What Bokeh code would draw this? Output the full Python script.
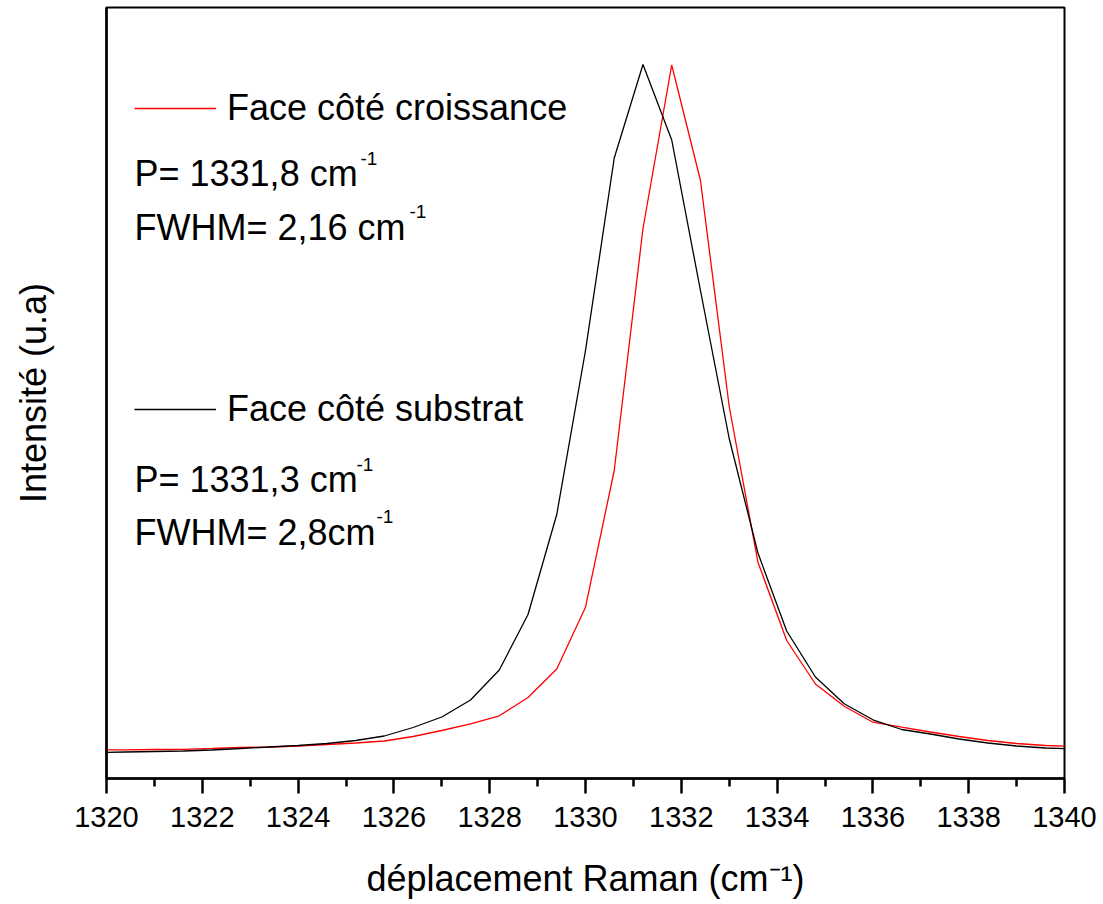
from bokeh.plotting import figure
from bokeh.models import Range1d, FixedTicker, Legend, LegendItem, Label
from bokeh.embed import file_html
from bokeh.resources import INLINE

# ---------------- data ----------------
raman_shift = [1319.8, 1320.4, 1321.0, 1321.6, 1322.2, 1322.8, 1323.4, 1324.0,
               1324.6, 1325.2, 1325.8, 1326.4, 1327.0, 1327.6, 1328.2, 1328.8,
               1329.4, 1330.0, 1330.6, 1331.2, 1331.8, 1332.4, 1333.0, 1333.6,
               1334.2, 1334.8, 1335.4, 1336.0, 1336.6, 1337.2, 1337.8, 1338.4,
               1339.0, 1339.6, 1340.2]

# Face côté croissance (red)
croissance = [28.5, 28.7, 29.0, 29.2, 30.0, 31.0, 31.5, 32.5,
              34.0, 35.5, 37.5, 42.0, 48.0, 54.7, 62.7, 81.0,
              109.5, 171.3, 308.0, 550.0, 713.5, 598.0, 372.0, 216.3,
              138.0, 94.5, 72.3, 56.3, 51.3, 46.5, 42.0, 38.0,
              35.0, 33.0, 32.0]

# Face côté substrat (black)
substrat = [26.0, 26.5, 27.0, 27.5, 28.5, 30.0, 31.5, 33.0,
            35.0, 38.0, 42.5, 51.0, 61.5, 78.5, 108.5, 164.0,
            264.0, 428.0, 620.5, 714.0, 638.5, 488.0, 340.0, 225.5,
            147.5, 101.5, 74.7, 58.7, 49.0, 44.5, 39.5, 35.5,
            32.5, 30.5, 29.5]

x_major_ticks = [1320, 1322, 1324, 1326, 1328, 1330, 1332, 1334, 1336, 1338, 1340]
x_minor_ticks = [1321, 1323, 1325, 1327, 1329, 1331, 1333, 1335, 1337, 1339]

label_red = "Face côté croissance"
label_black = "Face côté substrat"
x_axis_title = "déplacement Raman (cm⁻¹)"
y_axis_title = "Intensité (u.a)"

FONT = "Liberation Sans"
W, H = 1103, 904

p = figure(width=W, height=H, output_backend="svg", toolbar_location=None,
           x_range=Range1d(1320, 1340), y_range=Range1d(0, 771),
           min_border_left=106, min_border_right=39, min_border_top=7,
           min_border_bottom=126)

p.grid.visible = False
p.outline_line_color = "black"
p.outline_line_width = 2
p.background_fill_color = "white"
p.border_fill_color = "white"

r_red = p.line(raman_shift, croissance, line_color="#ff0000", line_width=1.3)
r_black = p.line(raman_shift, substrat, line_color="black", line_width=1.3)

# x axis
xa = p.xaxis[0]
xa.ticker = FixedTicker(ticks=x_major_ticks, minor_ticks=x_minor_ticks)
xa.axis_line_width = 2.5
xa.axis_line_color = "black"
xa.major_tick_line_width = 2.5
xa.minor_tick_line_width = 2.5
xa.major_tick_line_color = "black"
xa.minor_tick_line_color = "black"
xa.major_tick_out = 15
xa.major_tick_in = 0
xa.minor_tick_out = 8
xa.minor_tick_in = 0
xa.major_label_text_font = FONT
xa.major_label_text_font_size = "29px"
xa.major_label_text_color = "black"
xa.major_label_standoff = 13
xa.axis_label = x_axis_title
xa.axis_label_text_font = FONT
xa.axis_label_text_font_size = "36px"
xa.axis_label_text_font_style = "normal"
xa.axis_label_text_color = "black"
xa.axis_label_standoff = 28

# y axis (no ticks)
ya = p.yaxis[0]
ya.ticker = FixedTicker(ticks=[])
ya.axis_line_width = 2.5
ya.axis_line_color = "black"
ya.major_tick_out = 0
ya.major_tick_in = 0
ya.minor_tick_out = 0
ya.minor_tick_in = 0
ya.major_label_standoff = 0
ya.axis_label = y_axis_title
ya.axis_label_text_font = FONT
ya.axis_label_text_font_size = "36px"
ya.axis_label_text_font_style = "normal"
ya.axis_label_text_color = "black"
ya.axis_label_standoff = 53


def dx(px):
    return 1320 + (px - 106) * 20 / 958


def dy(py):
    return 778 - py


def legend_for(renderer, text, loc):
    return Legend(items=[LegendItem(label=text, renderers=[renderer])],
                  location=loc, padding=0, margin=0, spacing=0,
                  glyph_width=82, glyph_height=44, label_height=44,
                  label_standoff=11, label_text_font=FONT,
                  label_text_font_size="36px", label_text_color="black",
                  border_line_alpha=0, background_fill_alpha=0)


p.add_layout(legend_for(r_red, label_red, (28, 648)))
p.add_layout(legend_for(r_black, label_black, (28, 347)))


def txt(x, y, s, size="36px", align="left"):
    p.add_layout(Label(x=x, y=y, text=s, text_font=FONT, text_font_size=size,
                       text_color="black", text_align=align,
                       text_baseline="alphabetic"))


# red block
txt(dx(134), dy(172.7), "P= 1331,8 cm")
txt(dx(360), dy(158), "-1", "19px")
txt(dx(134), dy(226.5), "FWHM= 2,16 cm")
txt(dx(409), dy(211), "-1", "19px")

# black block
txt(dx(134), dy(479.3), "P= 1331,3 cm")
txt(dx(356), dy(464), "-1", "19px")
txt(dx(134), dy(531.7), "FWHM= 2,8cm")
txt(dx(376), dy(516), "-1", "19px")

open("out.html", "w").write(file_html(p, INLINE))
